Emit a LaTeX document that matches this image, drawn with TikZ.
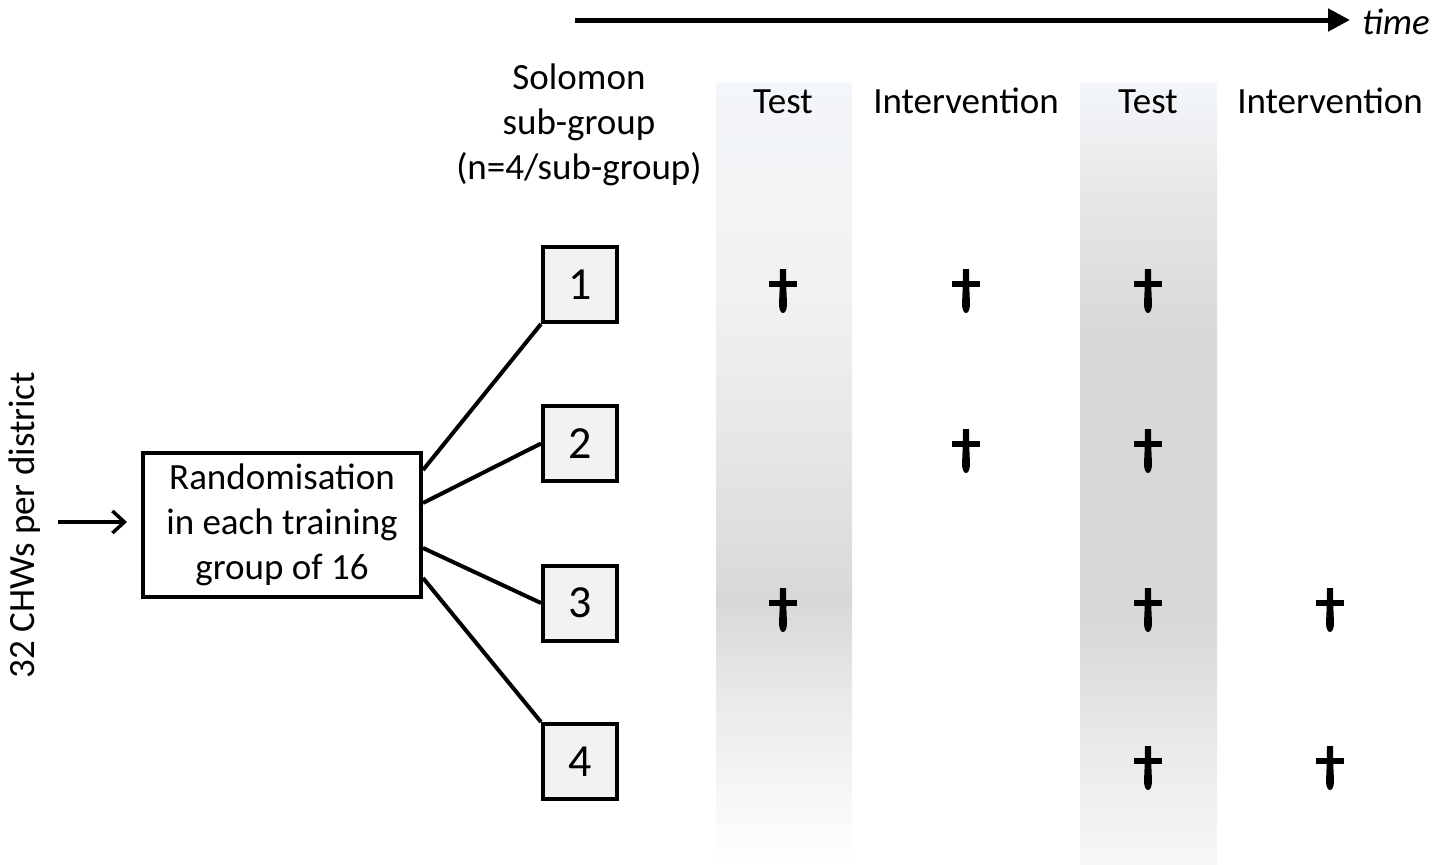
\documentclass[tikz,border=0pt]{standalone}
\usepackage{fontspec}
\setmainfont{Carlito}
\usetikzlibrary{arrows.meta}
\definecolor{topA}{HTML}{F3F6FA}
\definecolor{gA}{HTML}{F1F1F1}
\definecolor{gB}{HTML}{E6E6E6}
\definecolor{gD}{HTML}{D8D8D8}
\definecolor{gE}{HTML}{EAEAEA}
\definecolor{gF}{HTML}{F7F7F7}
\definecolor{boxfill}{HTML}{F2F2F2}
\pgfdeclareverticalshading{colA}{100bp}{color(0bp)=(white); color(25bp)=(white); color(29.16bp)=(gF); color(35.55bp)=(gE); color(41.94bp)=(gD); color(51.53bp)=(gB); color(61.12bp)=(gA); color(75bp)=(topA); color(100bp)=(topA)}
\pgfdeclareverticalshading{colB}{100bp}{color(0bp)=(gF); color(25bp)=(gF); color(32.35bp)=(gE); color(40.66bp)=(gD); color(58.57bp)=(gD); color(67.52bp)=(gB); color(75bp)=(topA); color(100bp)=(topA)}
\tikzset{
  txt/.style={font=\fontsize{37}{45}\selectfont, inner sep=0pt, align=center},
  head/.style={txt, anchor=base},
  numbox/.style={draw, line width=4pt, fill=boxfill, minimum width=74pt, minimum height=75pt, inner sep=0pt, font=\fontsize{46}{50}\selectfont},
  randbox/.style={draw, line width=4pt, fill=white, minimum width=278pt, minimum height=144pt, inner sep=0pt, align=center, font=\fontsize{37}{45}\selectfont},
  conn/.style={line width=4pt},
  dag/.pic={
    \fill (-3,-15) -- (3,-15) -- (3.4,6) -- (4,20) .. controls (4,26) and (2,29) .. (0,29) .. controls (-2,29) and (-4,26) .. (-4,20) -- (-3.4,6) -- cycle;
    \fill (-14,-2.9) rectangle (14,2.9);
  }
}
\begin{document}
\begin{tikzpicture}[x=1pt,y=-1pt]
\useasboundingbox (0,0) rectangle (1449,865);
% shaded columns
\shade[shading=colA] (716,83) rectangle (852,865);
\shade[shading=colB] (1080,83) rectangle (1217,865);
% time arrow
\coordinate (tstart) at (575,20);
\node[txt, font=\fontsize{37}{45}\selectfont\itshape, anchor=west] (time) at (1362,22) {time};
\draw[line width=5pt, -{Triangle[length=22pt,width=22pt]}] (tstart) -- ([xshift=-12pt]time.west |- tstart);
% headers
\node[txt] (sol) at (579,125) {Solomon\\sub-group\\(n=4/sub-group)};
\node[head] (h1) at (783,113) {Test};
\node[head] (h2) at (966,113) {Intervention};
\node[head] (h3) at (1148,113) {Test};
\node[head] (h4) at (1330,113) {Intervention};
% boxes
\node[numbox] (b1) at (580,284.5) {1};
\node[numbox] (b2) at (580,443.5) {2};
\node[numbox] (b3) at (580,603) {3};
\node[numbox] (b4) at (580,761.5) {4};
\node[randbox] (rand) at (282,525) {Randomisation\\in each training\\group of 16};
% connectors
\draw[conn] ([yshift=55pt]rand.east) -- (b1.south west);
\draw[conn] ([yshift=22pt]rand.east) -- (b2.west);
\draw[conn] ([yshift=-23pt]rand.east) -- (b3.west);
\draw[conn] ([yshift=-53pt]rand.east) -- (b4.north west);
% input
\node[txt, rotate=90] (chw) at (25,525) {32 CHWs per district};
\coordinate (inp) at (58,522);
\draw[line width=3.5pt, -{Straight Barb[length=12pt,width=22pt,line width=3.5pt]}] (inp) -- ([xshift=-14pt]rand.west |- inp);
% daggers
\pic at (783,284) {dag};
\pic at (966,284) {dag};
\pic at (1148,284) {dag};
\pic at (966,444) {dag};
\pic at (1148,444) {dag};
\pic at (783,603) {dag};
\pic at (1148,603) {dag};
\pic at (1330,603) {dag};
\pic at (1148,761) {dag};
\pic at (1330,761) {dag};
\end{tikzpicture}
\end{document}
